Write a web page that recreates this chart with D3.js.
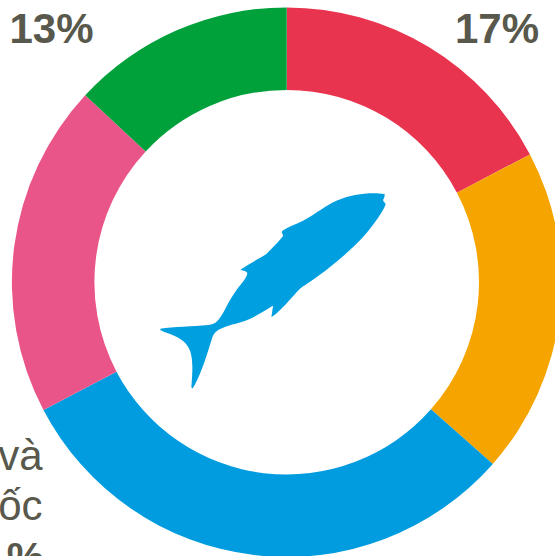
<!DOCTYPE html>
<html>
<head>
<meta charset="utf-8">
<script src="https://cdn.jsdelivr.net/npm/d3@7"></script>
<style>
html,body{margin:0;padding:0;background:#fff;overflow:hidden}
svg{display:block}
text{font-family:"Liberation Sans",Arial,sans-serif;fill:#58584c}
</style>
</head>
<body>
<svg id="c" width="555" height="556"></svg>
<script>
const categories = ["Đỏ", "Cam", "Xanh dương", "Hồng", "Xanh lá"];
const values = [17.3, 19.2, 30.8, 19.6, 13.1];
const colors = ["#e9344f", "#f6a500", "#009cdf", "#ea5589", "#00a03b"];
const labelTexts = ["17%", "13%"];
const clippedLabelLines = ["và", "ốc", "%"];

const cx = 286.7, cy = 282.2, R = 274.8, r = 192.3;
const svg = d3.select("#c");
const pie = d3.pie().sort(null).value(d => d)(values);
const arc = d3.arc().innerRadius(r).outerRadius(R);

svg.append("g").attr("transform", `translate(${cx},${cy})`)
  .selectAll("path").data(pie).join("path")
  .attr("d", arc)
  .attr("fill", (d, i) => colors[i]);

const fish = "M733,72 C700,66 640,70 590,92 C560,105 530,130 490,152 C470,162 445,170 428,182 C424,187 430,192 430,198 C420,212 400,232 380,252 C360,265 330,280 302,299 C310,302 322,303 323,310 C322,325 300,345 285,368 C265,395 255,425 238,447 C228,460 220,463 205,465 C160,470 100,470 62,476 C60,480 65,482 72,485 C100,495 130,505 145,530 C160,555 160,590 155,650 C157,658 160,655 165,645 C185,610 205,545 217,505 C222,488 232,480 250,473 C275,463 300,460 330,447 C355,435 380,420 398,408 L400,408 C398,420 397,430 395,441 C410,435 445,395 475,362 C490,347 530,325 570,292 C610,260 650,225 680,190 C705,160 730,125 738,103 C736,97 730,95 730,90 C733,85 735,80 735,72 Z";
svg.append("path").attr("d", fish)
  .attr("transform", "translate(139.7,170) scale(0.33333)")
  .attr("fill", "#009fe0");

svg.append("text").text(labelTexts[0]).attr("x", 539).attr("y", 43)
  .attr("text-anchor", "end").attr("font-size", 42).attr("font-weight", 700);
svg.append("text").text(labelTexts[1]).attr("x", 93.5).attr("y", 43)
  .attr("text-anchor", "end").attr("font-size", 42).attr("font-weight", 700);

const ends = [42.5, 42.5, 44], bases = [470, 520, 572];
clippedLabelLines.forEach((t, i) => {
  svg.append("text").text(t).attr("x", ends[i]).attr("y", bases[i])
    .attr("text-anchor", "end").attr("font-size", 42)
    .attr("font-weight", i === 2 ? 700 : 400);
});
</script>
</body>
</html>
